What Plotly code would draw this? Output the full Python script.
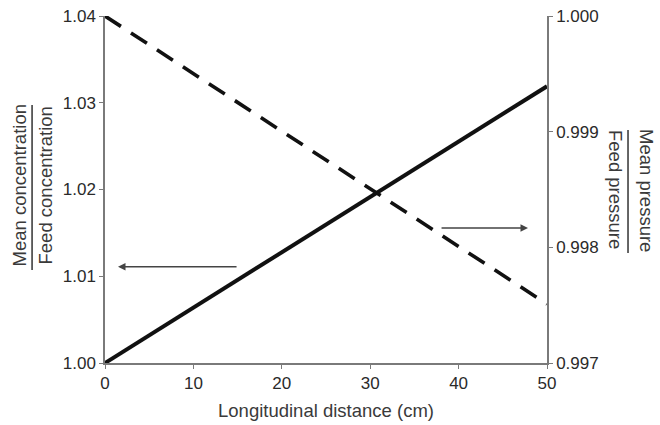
import plotly.graph_objects as go

distance = [0, 50]
conc_ratio = [1.000, 1.0319]
press_ratio = [1.000, 0.99751]

x_ticks = [0, 10, 20, 30, 40, 50]
left_ticks = [1.00, 1.01, 1.02, 1.03, 1.04]
left_labels = ["1.00", "1.01", "1.02", "1.03", "1.04"]
right_ticks = [0.997, 0.998, 0.999, 1.000]
right_labels = ["0.997", "0.998", "0.999", "1.000"]

FONT = "Liberation Sans, Arial, sans-serif"
TXT = "#2a2a2a"
TTL = "#3a3a3a"
AX = "#7a7a7a"

fig = go.Figure()
fig.add_trace(go.Scatter(x=distance, y=conc_ratio, mode="lines",
                         line=dict(color="#111111", width=4), yaxis="y", showlegend=False))
fig.add_trace(go.Scatter(x=distance, y=press_ratio, mode="lines",
                         line=dict(color="#111111", width=3.6, dash="19px,12px"), yaxis="y2", showlegend=False))

axis_common = dict(showgrid=False, zeroline=False, showline=True, linecolor=AX, linewidth=1.5,
                   ticks="outside", ticklen=4, tickcolor=AX, tickwidth=1, automargin=False,
                   tickfont=dict(family=FONT, size=17, color=TXT))

fig.update_layout(
    width=660, height=425,
    margin=dict(l=105, r=113, t=16, b=62),
    paper_bgcolor="white", plot_bgcolor="white",
    font=dict(family=FONT, color=TXT),
    xaxis=dict(range=[0, 50], tickvals=x_ticks, ticktext=[str(v) for v in x_ticks],
               title=dict(text="Longitudinal distance (cm)", font=dict(family=FONT, size=18.5, color=TTL), standoff=12),
               **axis_common),
    yaxis=dict(range=[1.00, 1.04], tickvals=left_ticks, ticktext=left_labels, **axis_common),
    yaxis2=dict(range=[0.997, 1.000], tickvals=right_ticks, ticktext=right_labels,
                overlaying="y", side="right", **axis_common),
)

# arrows
fig.add_annotation(x=1.47, y=1.0111, ax=15.05, ay=1.0111, xref="x", yref="y", axref="x", ayref="y",
                   showarrow=True, arrowhead=2, arrowsize=1, arrowwidth=1.5, arrowcolor="#444444", text="")
fig.add_annotation(x=47.85, y=1.01556, ax=37.9, ay=1.01556, xref="x", yref="y", axref="x", ayref="y",
                   showarrow=True, arrowhead=2, arrowsize=1, arrowwidth=1.5, arrowcolor="#444444", text="")

tfont = dict(family=FONT, size=18.5, color=TTL)
# left fraction title
fig.add_annotation(x=-0.1923, y=0.5115, xref="paper", yref="paper", text="Mean concentration",
                   textangle=-90, showarrow=False, xanchor="center", yanchor="middle", font=tfont)
fig.add_annotation(x=-0.1335, y=0.5115, xref="paper", yref="paper", text="Feed concentration",
                   textangle=-90, showarrow=False, xanchor="center", yanchor="middle", font=tfont)
fig.add_shape(type="line", xref="paper", yref="paper", x0=-0.165, x1=-0.165, y0=0.268, y1=0.7435,
              line=dict(color="#333333", width=1.5))

# right fraction title
fig.add_annotation(x=1.224, y=0.4986, xref="paper", yref="paper", text="Mean pressure",
                   textangle=90, showarrow=False, xanchor="center", yanchor="middle", font=tfont)
fig.add_annotation(x=1.1538, y=0.4986, xref="paper", yref="paper", text="Feed pressure",
                   textangle=90, showarrow=False, xanchor="center", yanchor="middle", font=tfont)
fig.add_shape(type="line", xref="paper", yref="paper", x0=1.1833, x1=1.1833, y0=0.317, y1=0.6715,
              line=dict(color="#333333", width=1.5))

fig.write_html("out.html", config={"displayModeBar": False},
               post_script="document.body.style.margin='0';")
